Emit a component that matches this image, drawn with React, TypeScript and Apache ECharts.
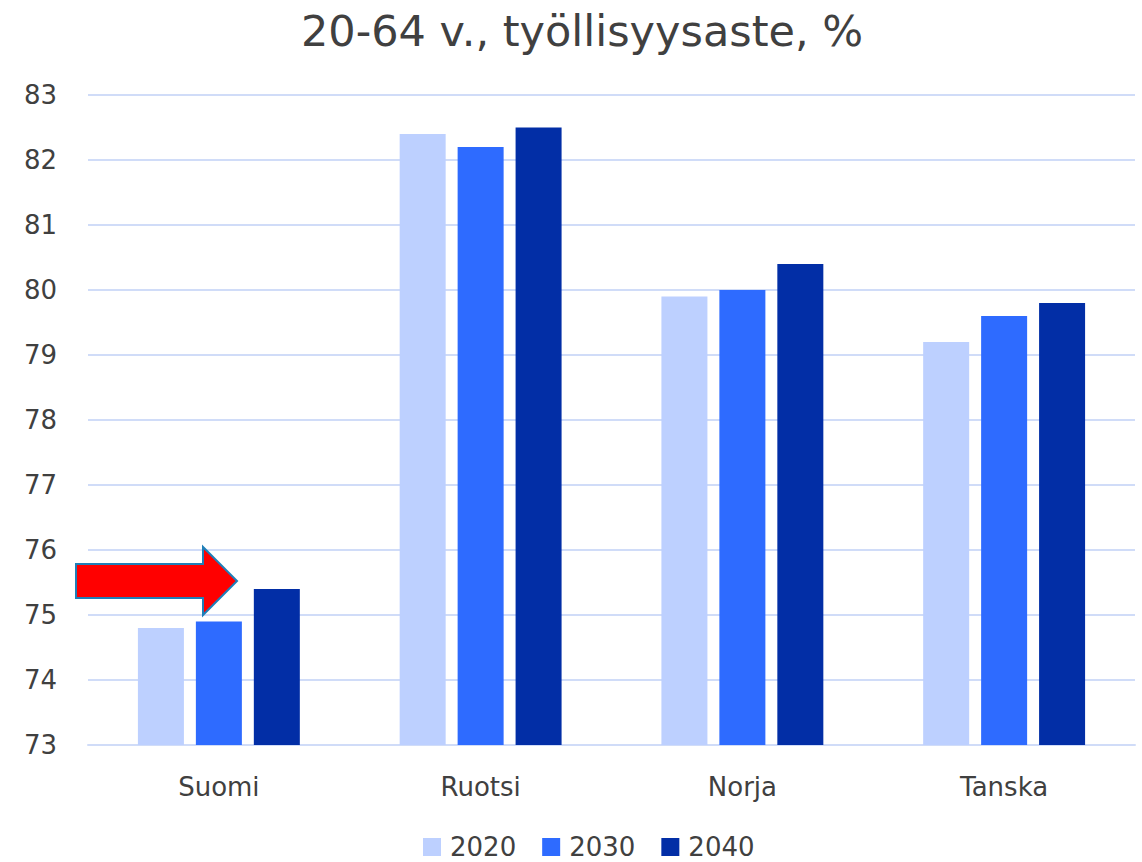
import React, { useEffect, useRef } from "react";
import * as echarts from "echarts";

const categories = ["Suomi", "Ruotsi", "Norja", "Tanska"];
const seriesNames = ["2020", "2030", "2040"];
const values2020 = [74.8, 82.4, 79.9, 79.2];
const values2030 = [74.9, 82.2, 80.0, 79.6];
const values2040 = [75.4, 82.5, 80.4, 79.8];
const colors = ["#BDD0FF", "#2E6BFF", "#022EA6"];
const title = "20-64 v., työllisyysaste, %";

export default function App() {
  const ref = useRef<HTMLDivElement>(null);
  useEffect(() => {
    if (!ref.current) return;
    const chart = echarts.init(ref.current, undefined, { renderer: "svg" });
    const font = "Tahoma, 'DejaVu Sans', sans-serif";
    const data = [values2020, values2030, values2040];
    chart.setOption({
      animation: false,
      textStyle: { fontFamily: font },
      title: {
        text: title,
        left: 296,
        top: 4,
        textStyle: { fontFamily: font, fontSize: 43, fontWeight: "normal", color: "#404040" },
      },
      legend: {
        top: 834,
        left: 423,
        padding: 0,
        itemWidth: 18,
        itemHeight: 18,
        itemGap: 26,
        icon: "rect",
        textStyle: { fontFamily: font, fontSize: 26, lineHeight: 24, color: "#404040", padding: [0, 0, 0, 4] },
        data: seriesNames,
      },
      grid: { left: 88, right: 7, top: 95, bottom: 117, containLabel: false },
      xAxis: {
        type: "category",
        data: categories,
        axisLine: { show: true, lineStyle: { color: "#D0DCF8", width: 2 } },
        axisTick: { show: false },
        axisLabel: { fontFamily: font, fontSize: 26, color: "#404040", margin: 29 },
      },
      yAxis: {
        type: "value",
        min: 73,
        max: 83,
        interval: 1,
        axisLine: { show: false },
        axisTick: { show: false },
        splitLine: { lineStyle: { color: "#D0DCF8", width: 2 } },
        axisLabel: { fontFamily: font, fontSize: 26, color: "#404040", margin: 31 },
      },
      series: seriesNames.map((name, i) => ({
        name,
        type: "bar",
        data: data[i],
        barWidth: 46,
        barGap: "26%",
        itemStyle: { color: colors[i] },
      })),
      graphic: [
        {
          type: "polygon",
          shape: {
            points: [
              [76, 564],
              [203, 564],
              [203, 547],
              [237, 581],
              [203, 615],
              [203, 598],
              [76, 598],
            ],
          },
          style: { fill: "#FF0000", stroke: "#1F7FB8", lineWidth: 2 },
          z: 100,
        },
      ],
    });
    return () => chart.dispose();
  }, []);
  return <div ref={ref} style={{ width: 1142, height: 862, position: "absolute", left: 0, top: 0 }} />;
}
